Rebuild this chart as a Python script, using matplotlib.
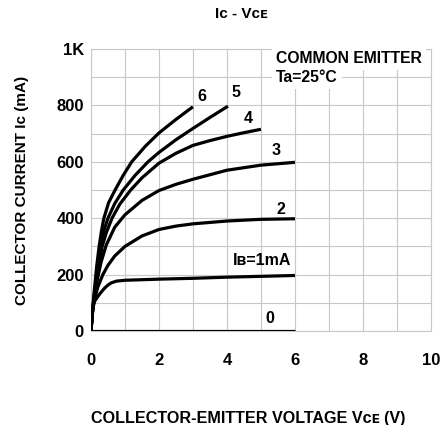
import matplotlib.pyplot as plt

plt.rcParams['font.family'] = ['Liberation Sans', 'DejaVu Sans']
plt.rcParams['font.weight'] = 'bold'

# Ic - Vce curves (V, mA)
vce_0 = [0, 6]
ic_0 = [0, 0]

vce_1 = [0, 0.03, 0.07, 0.12, 0.2, 0.3, 0.4, 0.5, 0.6, 0.75, 1.0, 2, 3, 4, 5, 6]
ic_1 = [0, 60, 92, 108, 122, 138, 152, 163, 171, 177, 180, 184, 187, 191, 194, 197]

vce_2 = [0, 0.05, 0.1, 0.2, 0.35, 0.5, 0.7, 1.0, 1.5, 2, 2.5, 3, 4, 5, 6]
ic_2 = [0, 70, 110, 155, 200, 233, 266, 300, 337, 360, 372, 380, 390, 396, 398]

vce_3 = [0, 0.05, 0.1, 0.2, 0.3, 0.45, 0.7, 1.0, 1.5, 2, 2.5, 3, 4, 5, 6]
ic_3 = [0, 75, 120, 190, 245, 305, 368, 412, 463, 498, 520, 538, 570, 588, 598]

vce_4 = [0, 0.05, 0.1, 0.2, 0.33, 0.45, 0.62, 0.85, 1.17, 1.5, 2, 2.5, 3, 3.5, 4, 4.5, 5]
ic_4 = [0, 75, 125, 205, 300, 348, 400, 450, 500, 543, 595, 630, 658, 675, 690, 703, 715]

vce_5 = [0, 0.05, 0.1, 0.2, 0.28, 0.38, 0.5, 0.7, 0.95, 1.3, 1.68, 2, 2.5, 3, 3.5, 4.03]
ic_5 = [0, 75, 130, 220, 300, 355, 400, 452, 500, 552, 600, 633, 678, 718, 757, 797]

vce_6 = [0, 0.05, 0.1, 0.17, 0.24, 0.31, 0.38, 0.52, 0.72, 0.95, 1.2, 1.6, 2, 2.5, 3]
ic_6 = [0, 80, 145, 230, 300, 355, 400, 455, 502, 552, 600, 655, 702, 750, 795]

curves = [(vce_0, ic_0), (vce_1, ic_1), (vce_2, ic_2), (vce_3, ic_3),
          (vce_4, ic_4), (vce_5, ic_5), (vce_6, ic_6)]

# curve labels and where they sit
curve_labels = ['0', 'I\u0299=1mA', '2', '3', '4', '5', '6']
label_x = [5.26, 5.9, 5.6, 5.44, 4.62, 4.26, 3.27]
label_y = [46, 250, 432, 641, 755, 845, 833]
label_ha = ['center', 'right', 'center', 'center', 'center', 'center', 'center']

x_ticks = [0, 2, 4, 6, 8, 10]
y_ticks = [0, 200, 400, 600, 800, 1000]
y_ticklabels = ['0', '200', '400', '600', '800', '1K']

fig = plt.figure(figsize=(4.48, 4.25), dpi=100)
ax = fig.add_axes([0.203, 0.221, 0.759, 0.664])

for vx, iy in curves:
    ax.plot(vx, iy, color='black', lw=2.3, solid_capstyle='butt', zorder=3)

for txt, lx, ly, ha in zip(curve_labels, label_x, label_y, label_ha):
    ax.text(lx, ly, txt, ha=ha, va='center', fontsize=11.5, fontweight='bold', zorder=4)

ax.text(5.45, 965, 'COMMON EMITTER', fontsize=11.3, fontweight='bold', va='center', ha='left',
        zorder=4, bbox=dict(facecolor='white', edgecolor='none', pad=3))
ax.text(5.45, 898, 'Ta=25\u00b0C', fontsize=11.3, fontweight='bold', va='center', ha='left',
        zorder=4, bbox=dict(facecolor='white', edgecolor='none', pad=3))

ax.set_xlim(0, 10)
ax.set_ylim(0, 1000)
ax.set_xticks(range(0, 11), minor=True)
ax.set_yticks(range(0, 1001, 100), minor=True)
ax.set_xticks(x_ticks)
ax.set_yticks(y_ticks)
ax.set_yticklabels(y_ticklabels)
ax.grid(True, which='both', color='#c8c8c8', lw=0.8, zorder=0)
ax.set_axisbelow(True)
ax.tick_params(which='both', length=0, labelsize=12)
ax.tick_params(axis='x', pad=16)
ax.tick_params(axis='y', pad=5)
for lab in ax.get_xticklabels() + ax.get_yticklabels():
    lab.set_fontweight('bold')
for sp in ax.spines.values():
    sp.set_color('#c8c8c8')
    sp.set_linewidth(0.8)

ax.set_xlabel('COLLECTOR-EMITTER VOLTAGE V\u1d04\u1d07 (V)', fontsize=11.6, fontweight='bold')
ax.xaxis.set_label_coords(0.463, -0.284)
ax.set_ylabel('COLLECTOR CURRENT I\u1d04 (mA)', fontsize=11, fontweight='bold', labelpad=20)
fig.text(0.538, 0.967, 'I\u1d04 - V\u1d04\u1d07', ha='center', va='center', fontsize=11, fontweight='bold')

fig.savefig('out.png', dpi=100, facecolor='white')
